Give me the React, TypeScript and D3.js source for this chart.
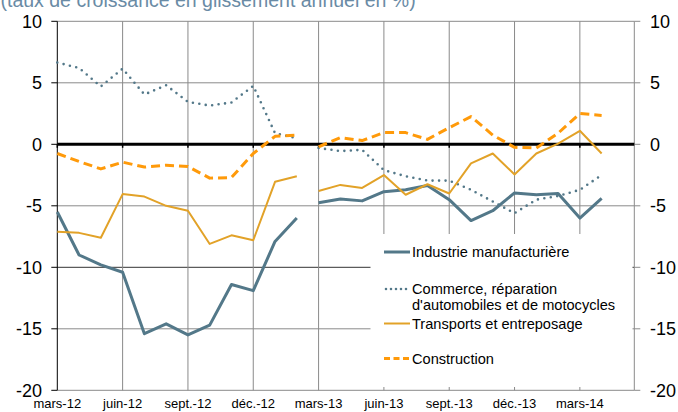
import React from 'react';
import * as d3 from 'd3';

// monthly, mars-12 .. avr.-14 (index 0..25); series break after févr.-13
const industrie = [-5.5, -9.0, -9.8, -10.4, -15.4, -14.6, -15.5, -14.7, -11.4, -11.9, -7.9, -6.0,
  -4.75, -4.45, -4.6, -3.85, -3.7, -3.35, -4.5, -6.2, -5.4, -3.95, -4.1, -4.0, -6.0, -4.4];
const commerce = [6.65, 6.2, 4.7, 6.15, 4.05, 4.8, 3.45, 3.15, 3.4, 4.75, 0.9, 0.5,
  -0.3, -0.55, -0.45, -2.1, -2.6, -2.95, -2.95, -3.7, -4.65, -5.6, -4.5, -4.2, -3.7, -2.5];
const transports = [-7.1, -7.2, -7.6, -4.05, -4.25, -5.0, -5.4, -8.1, -7.4, -7.8, -3.05, -2.6,
  -3.8, -3.3, -3.55, -2.5, -4.1, -3.25, -4.0, -1.55, -0.75, -2.45, -0.75, 0.05, 1.1, -0.75];
const construction = [-0.75, -1.4, -2.0, -1.45, -1.85, -1.7, -1.8, -2.75, -2.7, -0.75, 0.65, 0.75,
  -0.2, 0.55, 0.3, 0.95, 0.95, 0.4, 1.35, 2.25, 0.75, -0.25, -0.3, 0.9, 2.5, 2.35];
const breakAfter = 11;

const quarterLabels = ['mars-12', 'juin-12', 'sept.-12', 'déc.-12', 'mars-13', 'juin-13', 'sept.-13', 'déc.-13', 'mars-14'];
const yTicks = [10, 5, 0, -5, -10, -15, -20];
const title = '(taux de croissance en glissement annuel en %)';

const FONT = "'Liberation Sans', Arial, sans-serif";

const series = [
  { name: 'Industrie manufacturière', lines: ['Industrie manufacturière'], values: industrie, color: '#537889', width: 3, dash: undefined, cap: 'butt', ly: 252 },
  { name: 'Commerce', lines: ['Commerce, réparation', "d'automobiles et de motocycles"], values: commerce, color: '#537889', width: 2.6, dash: '0,6.5', cap: 'round', ly: 289 },
  { name: 'Transports', lines: ['Transports et entreposage'], values: transports, color: '#e2a228', width: 2, dash: undefined, cap: 'butt', ly: 323.5 },
  { name: 'Construction', lines: ['Construction'], values: construction, color: '#ff9a0a', width: 3, dash: '9,5', cap: 'butt', ly: 358.5 },
];

export default function App() {
  const x = d3.scaleLinear().domain([0, 26.5]).range([57.3, 634.3]);
  const y = d3.scaleLinear().domain([-20, 10]).range([390.3, 21.3]);
  const line = d3.line<number>().x((_, i) => x(i)).y(d => y(d));
  const line2 = d3.line<number>().x((_, i) => x(i + breakAfter + 1)).y(d => y(d));
  const quarters = quarterLabels.map((_, i) => i * 3);
  const [x0, x1] = x.range();
  const [y0, y1] = y.range();

  return (
    <svg width={678} height={412} style={{ position: 'absolute', left: 0, top: 0, background: '#fff' }} fontFamily={FONT}>
      <text x={0.5} y={6.5} fontSize={19.5} fill="#6a8ba5">{title}</text>

      {/* grid */}
      {yTicks.filter(v => v !== 0).map(v => (
        <line key={'h' + v} x1={x0} x2={x1} y1={y(v)} y2={y(v)} stroke={v === -10 ? '#333' : '#8a8a8a'} strokeWidth={1} />
      ))}
      {quarters.slice(1).map(q => (
        <line key={'v' + q} x1={x(q)} x2={x(q)} y1={y1} y2={y0} stroke="#8a8a8a" strokeWidth={1} />
      ))}
      <line x1={x1} x2={x1} y1={y1} y2={y0} stroke="#8a8a8a" strokeWidth={1} />

      {/* legend box */}
      <rect x={370.5} y={234} width={262} height={153} fill="#fff" />

      {/* left axis */}
      <line x1={x0} x2={x0} y1={y1} y2={y0} stroke="#000" strokeWidth={1} />
      {yTicks.map(v => (
        <g key={'yt' + v}>
          <line x1={x0 - 6} x2={x0} y1={y(v)} y2={y(v)} stroke="#000" />
          <line x1={x1} x2={x1 + 6} y1={y(v)} y2={y(v)} stroke="#8a8a8a" />
          <text x={42} y={y(v) + 6.3} fontSize={18} textAnchor="end" fill="#000">{v}</text>
          <text x={650} y={y(v) + 6.3} fontSize={18} fill="#000">{v}</text>
        </g>
      ))}

      {/* zero line */}
      <line x1={x0} x2={x1} y1={y(0)} y2={y(0)} stroke="#000" strokeWidth={3} />
      {quarters.map(q => (
        <line key={'zt' + q} x1={x(q)} x2={x(q)} y1={y(0)} y2={y(0) + 3.5} stroke="#000" strokeWidth={1.5} />
      ))}

      {/* x labels */}
      {quarterLabels.map((l, i) => (
        <text key={l} x={x(quarters[i])} y={408} fontSize={13} textAnchor="middle" fill="#000">{l}</text>
      ))}

      {/* series */}
      {series.map(s => (
        <g key={s.name} fill="none" stroke={s.color} strokeWidth={s.width} strokeDasharray={s.dash} strokeLinecap={s.cap as any} strokeLinejoin="round">
          <path d={line(s.values.slice(0, breakAfter + 1)) || ''} />
          <path d={line2(s.values.slice(breakAfter + 1)) || ''} />
        </g>
      ))}

      {/* legend */}
      {series.map(s => (
        <g key={'lg' + s.name}>
          <line x1={s.dash === '0,6.5' ? 386 : 384} x2={410} y1={s.ly} y2={s.ly} stroke={s.color} strokeWidth={s.width}
            strokeDasharray={s.dash === '0,6.5' ? '0,5' : s.dash ? '6,3.5' : undefined} strokeLinecap={s.cap as any} />
          {s.lines.map((t, j) => (
            <text key={t} x={412} y={s.ly + 5.2 + j * 16} fontSize={14.6} fill="#000">{t}</text>
          ))}
        </g>
      ))}
    </svg>
  );
}
